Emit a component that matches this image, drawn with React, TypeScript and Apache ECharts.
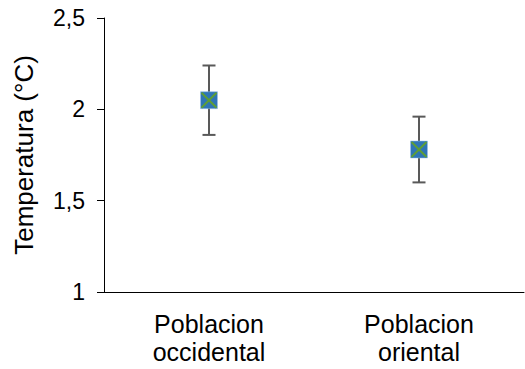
import React, { useEffect, useRef } from "react";
import * as echarts from "echarts";

const categories = ["Poblacion\noccidental", "Poblacion\noriental"];
const means = [2.05, 1.78];
const upper = [2.24, 1.96];
const lower = [1.86, 1.6];
const yTicks = [1, 1.5, 2, 2.5];

const FONT = "Liberation Sans";

export default function App() {
  const ref = useRef<HTMLDivElement>(null);
  useEffect(() => {
    const chart = echarts.init(ref.current!, null, { renderer: "svg" });
    const data = categories.map((_, i) => [i, means[i], lower[i], upper[i]]);
    chart.setOption({
      animation: false,
      grid: { left: 104, right: 1, top: 18, bottom: 77 },
      xAxis: {
        type: "category",
        data: categories,
        axisLine: { lineStyle: { color: "#000", width: 1 } },
        axisTick: { show: false },
        axisLabel: {
          color: "#000",
          fontFamily: FONT,
          fontSize: 25,
          lineHeight: 28,
          margin: 18,
        },
      },
      yAxis: {
        type: "value",
        min: 1,
        max: 2.5,
        interval: 0.5,
        name: "Temperatura (°C)",
        nameLocation: "middle",
        nameGap: 67,
        nameTextStyle: { color: "#000", fontFamily: FONT, fontSize: 26 },
        axisLine: { show: true, lineStyle: { color: "#000", width: 1 } },
        axisTick: { show: true, length: 7, lineStyle: { color: "#000" } },
        splitLine: { show: false },
        axisLabel: {
          color: "#000",
          fontFamily: FONT,
          fontSize: 23,
          margin: 19,
          formatter: (v: number) => (yTicks.includes(v) ? String(v).replace(".", ",") : ""),
        },
      },
      series: [
        {
          type: "custom",
          data,
          renderItem: (params: any, api: any) => {
            const x = api.value(0);
            const c = api.coord([x, api.value(1)]);
            const lo = api.coord([x, api.value(2)]);
            const hi = api.coord([x, api.value(3)]);
            const cap = 6.5;
            const s = 8.5;
            const eb = { stroke: "#595959", lineWidth: 2 };
            return {
              type: "group",
              children: [
                { type: "line", shape: { x1: c[0], y1: hi[1], x2: c[0], y2: lo[1] }, style: eb },
                { type: "line", shape: { x1: c[0] - cap, y1: hi[1], x2: c[0] + cap, y2: hi[1] }, style: eb },
                { type: "line", shape: { x1: c[0] - cap, y1: lo[1], x2: c[0] + cap, y2: lo[1] }, style: eb },
                {
                  type: "rect",
                  shape: { x: c[0] - s, y: c[1] - s, width: 2 * s, height: 2 * s },
                  style: { fill: "#2E75B6", stroke: "#9DC3E6", lineWidth: 0.5 },
                },
                {
                  type: "line",
                  shape: { x1: c[0] - s + 1, y1: c[1] - s + 1, x2: c[0] + s - 1, y2: c[1] + s - 1 },
                  style: { stroke: "#5E9E36", lineWidth: 2 },
                },
                {
                  type: "line",
                  shape: { x1: c[0] - s + 1, y1: c[1] + s - 1, x2: c[0] + s - 1, y2: c[1] - s + 1 },
                  style: { stroke: "#5E9E36", lineWidth: 2 },
                },
              ],
            };
          },
        },
      ],
    });
    return () => chart.dispose();
  }, []);
  return (
    <div
      ref={ref}
      style={{ position: "absolute", left: 0, top: 0, width: 525, height: 369 }}
    />
  );
}
